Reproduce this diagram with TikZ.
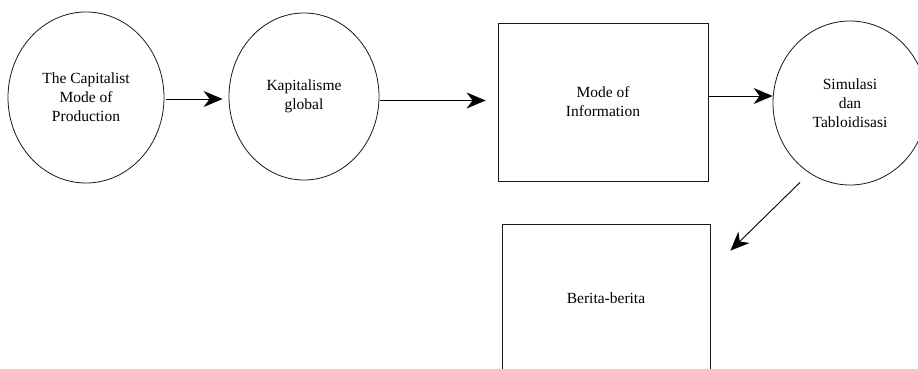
\documentclass[tikz,border=0pt]{standalone}
\usepackage{fontspec}
\setmainfont{Liberation Serif}
\usetikzlibrary{shapes.geometric,arrows.meta}
\begin{document}
\begin{tikzpicture}[x=1pt,y=-1pt,
  every node/.style={font=\fontsize{15.5}{19}\selectfont, text=black, align=center},
  oval/.style={ellipse, draw=black!90, line width=0.8pt, inner sep=0pt},
  panel/.style={rectangle, draw=black!90, line width=0.8pt, inner sep=0pt},
  arr/.style={draw=black, line width=0.9pt, -{Stealth[length=19pt,width=16pt,inset=6pt]}}]
  \useasboundingbox (0,0) rectangle (918,369);
  \begin{scope}
    \clip (0,0) rectangle (918,369);
    % process bubbles and boxes
    \node[oval, minimum width=156pt, minimum height=171pt] (cap) at (86,97.5)
      {The Capitalist\\Mode of\\Production};
    \node[oval, minimum width=150pt, minimum height=167pt] (kap) at (304,96.5)
      {Kapitalisme\\global};
    \node[panel, minimum width=210pt, minimum height=158pt] (info) at (603,102)
      {Mode of\\Information};
    \node[oval, minimum width=154pt, minimum height=164pt] (sim) at (850,103)
      {Simulasi\\dan\\Tabloidisasi};
    \node[panel, minimum width=208pt, minimum height=148pt] (ber) at (606,298)
      {Berita-berita};
    % connectors
    \draw[arr, shorten <=2pt, shorten >=6pt]
      ([yshift=-1.5pt]cap.east) -- ([yshift=-1.5pt]cap.east -| kap.west);
    \draw[arr, shorten <=1pt, shorten >=12pt]
      ([yshift=-4pt]kap.east) -- ([yshift=-4pt]kap.east -| info.west);
    \draw[arr]
      ([yshift=6pt]info.east) -- ([yshift=6pt]info.east -| sim.west);
    \draw[arr]
      ([xshift=-50pt,yshift=3pt]sim.south) -- ([xshift=20pt,yshift=-27pt]ber.north east);
  \end{scope}
\end{tikzpicture}
\end{document}
